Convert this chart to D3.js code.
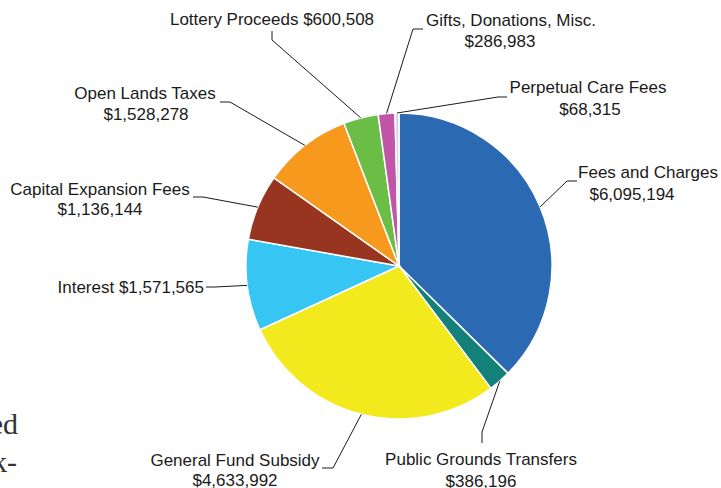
<!doctype html>
<html>
<head>
<meta charset="utf-8">
<style>
body { margin: 0; background: white; }
svg { display: block; }
.lbl { font-family: "Liberation Sans", Arial, sans-serif; font-size: 17px; fill: #1a1a1a; }
.bleed { font-family: "Liberation Serif", "Times New Roman", serif; font-size: 30px; fill: #333; }
</style>
<script src="https://cdnjs.cloudflare.com/ajax/libs/d3/7.8.5/d3.min.js"></script>
</head>
<body>
<div id="chart"></div>
<script>
// slices, clockwise from 12 o'clock
var names = ["Fees and Charges", "Public Grounds Transfers", "General Fund Subsidy", "Interest",
             "Capital Expansion Fees", "Open Lands Taxes", "Lottery Proceeds", "Gifts, Donations, Misc.",
             "Perpetual Care Fees"];
var values = [6095194, 386196, 4633992, 1571565, 1136144, 1528278, 600508, 286983, 68315];
var colors = ["#2b69b3", "#13807a", "#f2ea1d", "#37c6f4", "#973521", "#f7991d", "#6bbe45", "#c156a8", "#d9d2ec"];

var width = 721, height = 488;
var cx = 399, cy = 266, r = 153;

var svg = d3.select("#chart").append("svg")
  .attr("width", width).attr("height", height);

var fmt = d3.format("$,");

var pie = d3.pie().sort(null).value(function(d) { return d; });
var arcs = pie(values);
var arc = d3.arc().innerRadius(0).outerRadius(r);

var g = svg.append("g").attr("transform", "translate(" + cx + "," + cy + ")");
g.selectAll("path").data(arcs).enter().append("path")
  .attr("d", arc)
  .attr("fill", function(d, i) { return colors[i]; })
  .attr("stroke", "white")
  .attr("stroke-width", 1.5);

// label layout: lines of text [x, y(baseline), anchor, text] and leader elbow points
var layout = [
  {lines: [[648, 178, "middle", names[0]], [632, 200, "middle", fmt(values[0])]], elbow: [[577, 181], [567, 181]]},
  {lines: [[481, 465, "middle", names[1]], [481, 487, "middle", fmt(values[1])]], elbow: [[482, 443], [482, 432]]},
  {lines: [[235, 466, "middle", names[2]], [235, 486, "middle", fmt(values[2])]], elbow: [[322, 468], [333, 468]]},
  {lines: [[204, 293, "end", names[3] + " " + fmt(values[3])]], elbow: [[206, 287], [215, 287]]},
  {lines: [[100, 195, "middle", names[4]], [100, 215, "middle", fmt(values[4])]], elbow: [[193, 197], [203, 197]]},
  {lines: [[145, 99, "middle", names[5]], [146, 120, "middle", fmt(values[5])]], elbow: [[220, 102], [230, 102]]},
  {lines: [[272, 25, "middle", names[6] + " " + fmt(values[6])]], elbow: [[272, 31], [272, 40]]},
  {lines: [[511, 26, "middle", names[7]], [500, 47, "middle", fmt(values[7])]], elbow: [[423, 29], [413, 29]]},
  {lines: [[588, 93, "middle", names[8]], [590, 115, "middle", fmt(values[8])]], elbow: [[507, 97], [498, 97]]}
];

var line = d3.line();
arcs.forEach(function(a, i) {
  var mid = (a.startAngle + a.endAngle) / 2;
  var end = [cx + r * Math.sin(mid), cy - r * Math.cos(mid)];
  var pts = layout[i].elbow.concat([end]);
  svg.append("path")
    .attr("d", line(pts))
    .attr("fill", "none")
    .attr("stroke", "#1a1a1a")
    .attr("stroke-width", 1);
  layout[i].lines.forEach(function(l) {
    svg.append("text").attr("class", "lbl")
      .attr("x", l[0]).attr("y", l[1])
      .attr("text-anchor", l[2])
      .text(l[3]);
  });
});

// text of the page the chart was cut from
svg.append("text").attr("class", "bleed").attr("x", 18).attr("y", 434).attr("text-anchor", "end").text("ed");
svg.append("text").attr("class", "bleed").attr("x", 17).attr("y", 472).attr("text-anchor", "end").text("k-");
</script>
</body>
</html>
